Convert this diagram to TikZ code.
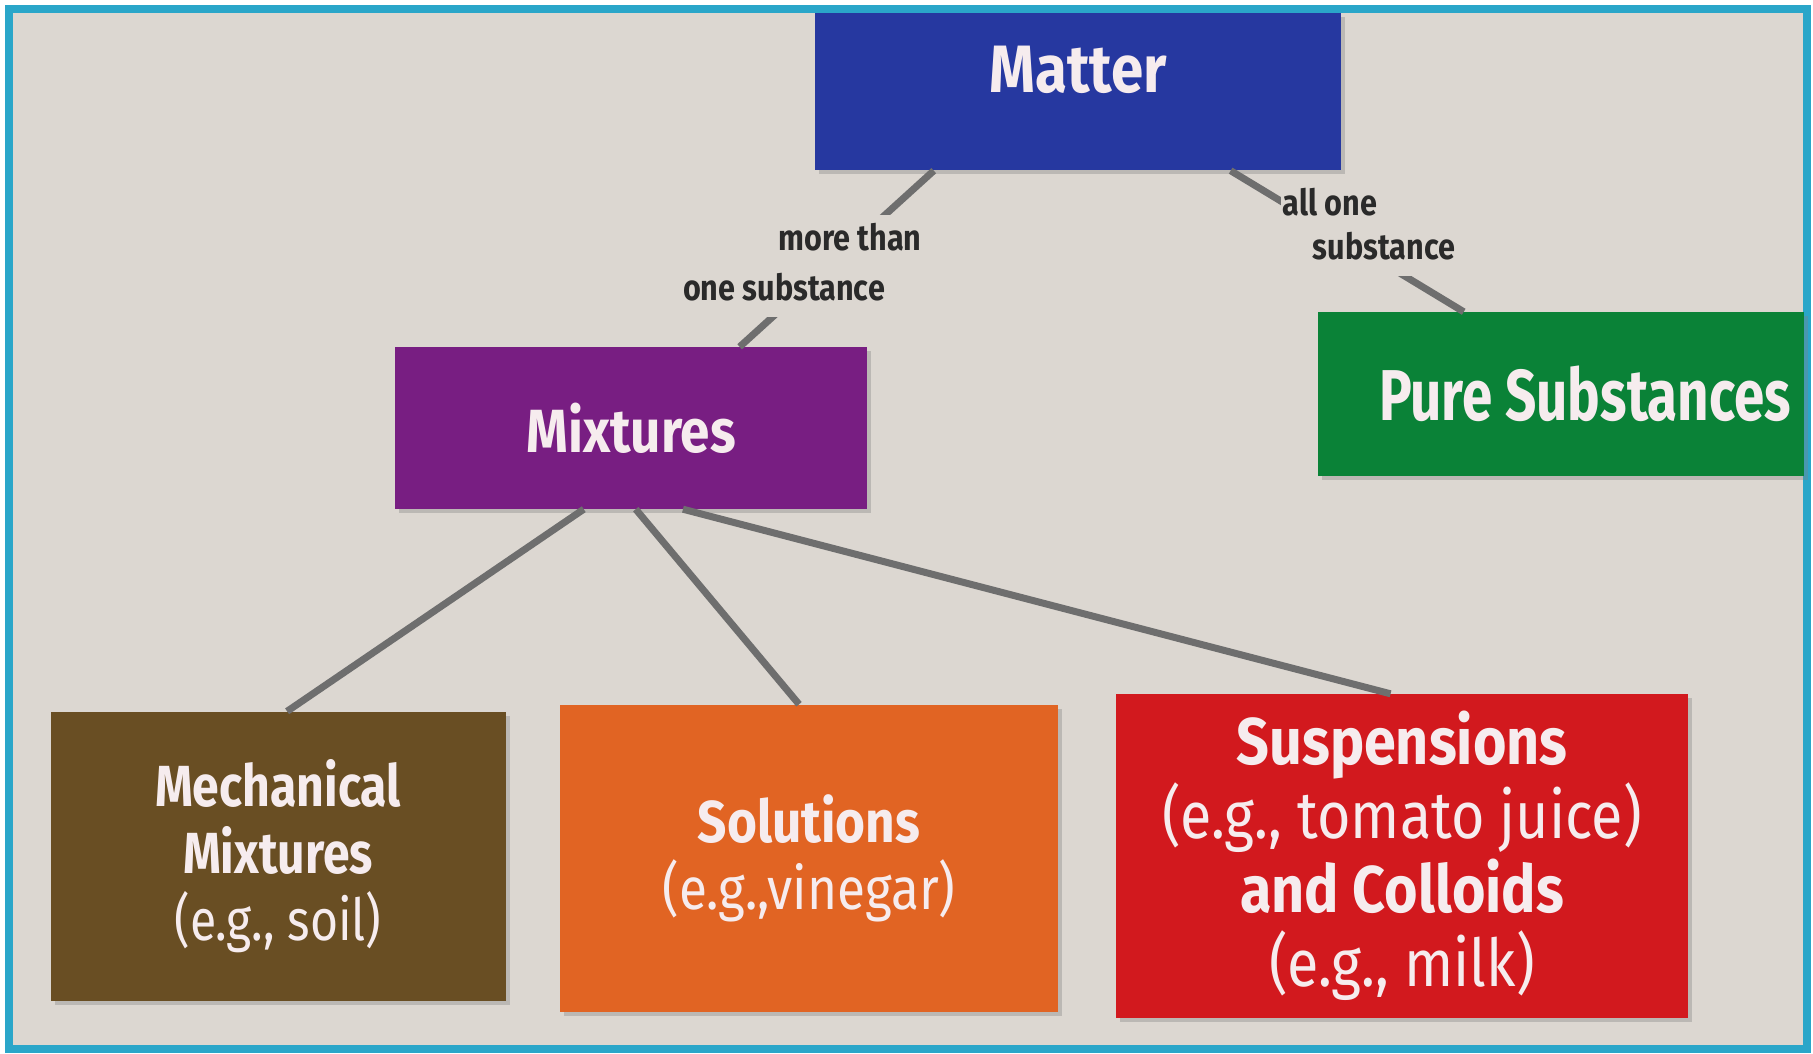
\documentclass[tikz,border=0pt]{standalone}
\usepackage{fontspec}
\newfontfamily\condA{Fira Sans}[FakeStretch=0.87]
\newfontfamily\condB{Fira Sans}[FakeStretch=0.76]
\newfontfamily\condC{Fira Sans}[FakeStretch=0.83]
\newfontfamily\condL{Fira Sans}[FakeStretch=0.85]
\usetikzlibrary{calc,shadows}
\definecolor{bg}{HTML}{DCD7D1}
\definecolor{framec}{HTML}{2AA6C9}
\definecolor{linec}{HTML}{6E6E6E}
\definecolor{labc}{HTML}{2A2A2A}
\definecolor{txt}{HTML}{F6ECEE}
\definecolor{cmatter}{HTML}{2638A0}
\definecolor{cmix}{HTML}{781E82}
\definecolor{cpure}{HTML}{0A8237}
\definecolor{cmech}{HTML}{694E23}
\definecolor{csol}{HTML}{E16423}
\definecolor{csus}{HTML}{D2191E}
\begin{document}
\begin{tikzpicture}[x=1pt,y=-1pt,
  box/.style={rectangle, inner sep=0pt, text=txt, align=center,
    drop shadow={opacity=0.35, shadow xshift=4pt, shadow yshift=-4pt}},
  conn/.style={draw=linec, line width=7pt},
  lbl/.style={font=\condL\bfseries\fontsize{36}{40}\selectfont, text=labc, fill=bg,
    inner xsep=2pt, inner ysep=7pt, text height=28pt, text depth=10pt}]
\useasboundingbox (0,0) rectangle (1813,1054);
\fill[white] (0,0) rectangle (1813,1054);
\fill[bg] (10,10) rectangle (1806,1048);
\draw[framec, line width=8pt] (9,9) rectangle (1807,1049);

% boxes
\node[box, fill=cmatter, minimum width=526pt, minimum height=157pt,
  font=\condA\bfseries\fontsize{67}{72}\selectfont, text height=46pt, text depth=44pt]
  (matter) at (1078,92) {Matter};
\node[box, fill=cmix, minimum width=472pt, minimum height=162pt,
  font=\condA\bfseries\fontsize{61}{66}\selectfont]
  (mix) at (631,428) {Mixtures};
\node[box, fill=cpure, minimum width=486pt, minimum height=164pt,
  font=\condB\bfseries\fontsize{72}{76}\selectfont]
  (pure) at (1561,394) {\hspace*{48pt}Pure Substances};
\node[box, fill=cmech, minimum width=455pt, minimum height=289pt,
  font=\condC\bfseries\fontsize{58}{67}\selectfont]
  (mech) at (278,856) {Mechanical\\Mixtures\\{\mdseries (e.g., soil)}};
\node[box, fill=csol, minimum width=498pt, minimum height=307pt,
  font=\condA\bfseries\fontsize{59}{67}\selectfont]
  (sol) at (809,858) {Solutions\\{\mdseries (e.g.,vinegar)}};
\node[box, fill=csus, minimum width=572pt, minimum height=324pt,
  font=\condA\bfseries\fontsize{66}{74}\selectfont]
  (sus) at (1402,856) {Suspensions\\{\mdseries (e.g., tomato juice)}\\and Colloids\\{\mdseries (e.g., milk)}};

% connectors
\draw[conn] ($(matter.south west)!0.226!(matter.south east)$) -- ($(mix.north west)!0.73!(mix.north east)$);
\draw[conn] ($(matter.south west)!0.79!(matter.south east)$) -- ($(pure.north west)!0.30!(pure.north east)$);
\draw[conn] ($(mix.south west)!0.40!(mix.south east)$) -- ($(mech.north west)!0.52!(mech.north east)$);
\draw[conn] ($(mix.south west)!0.51!(mix.south east)$) -- ($(sol.north west)!0.48!(sol.north east)$);
\draw[conn] ($(mix.south west)!0.61!(mix.south east)$) -- ($(sus.north west)!0.48!(sus.north east)$);

% connector labels
\node[lbl] (l1a) at (850,241) {more than};
\node[lbl] (l1b) at (784,291) {one substance};
\node[lbl] (l2a) at (1330,206) {all one};
\node[lbl] (l2b) at (1384,250) {substance};
\end{tikzpicture}
\end{document}
